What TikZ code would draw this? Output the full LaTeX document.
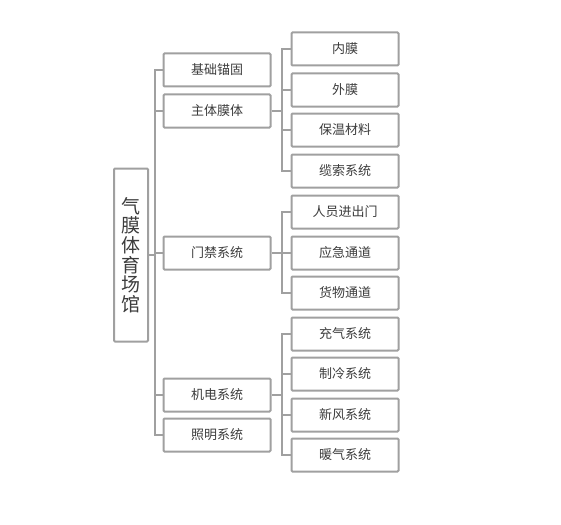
\documentclass[tikz,border=0pt]{standalone}
\usepackage{fontspec}
\newfontfamily\cjk{Noto Sans CJK SC}
\definecolor{linegray}{RGB}{160,160,160}
\definecolor{txt}{RGB}{60,60,60}
\begin{document}
\begin{tikzpicture}[x=1pt,y=-1pt,
  box/.style={draw=linegray, line width=2pt, fill=white, rounded corners=1pt,
    minimum width=107pt, minimum height=33pt, inner sep=0pt,
    font=\cjk\fontsize{13}{15}\selectfont, text=txt},
  rootbox/.style={draw=linegray, line width=2pt, fill=white, rounded corners=1pt,
    minimum width=34pt, minimum height=173pt, inner sep=0pt,
    font=\cjk\fontsize{19}{19.6}\selectfont, text=txt, align=center},
  conn/.style={draw=linegray, line width=2pt}]
\useasboundingbox (0,0) rectangle (561,524);
% root
\node[rootbox] (root) at (131,255) {气\\膜\\体\\育\\场\\馆};
% level 1
\node[box] (a) at (217,70) {基础锚固};
\node[box] (b) at (217,111) {主体膜体};
\node[box] (c) at (217,253) {门禁系统};
\node[box] (d) at (217,395) {机电系统};
\node[box] (e) at (217,435) {照明系统};
% level 2
\node[box] (b1) at (345,49) {内膜};
\node[box] (b2) at (345,90) {外膜};
\node[box] (b3) at (345,130) {保温材料};
\node[box] (b4) at (345,171) {缆索系统};
\node[box] (c1) at (345,212) {人员进出门};
\node[box] (c2) at (345,253) {应急通道};
\node[box] (c3) at (345,293) {货物通道};
\node[box] (d1) at (345,334) {充气系统};
\node[box] (d2) at (345,374) {制冷系统};
\node[box] (d3) at (345,415) {新风系统};
\node[box] (d4) at (345,455) {暖气系统};
% coordinates on trunks
\coordinate (rt) at (155,255);
\coordinate (bt) at (282,111);
\coordinate (ct) at (282,253);
\coordinate (dt) at (282,395);
\begin{scope}[on background layer/.style={}]
\draw[conn] (root.east) -- (rt);
\foreach \n in {a,b,c,d,e} \draw[conn] (rt) |- (\n.west);
\draw[conn] (b.east) -- (bt);
\foreach \n in {b1,b2,b3,b4} \draw[conn] (bt) |- (\n.west);
\draw[conn] (c.east) -- (ct);
\foreach \n in {c1,c2,c3} \draw[conn] (ct) |- (\n.west);
\draw[conn] (d.east) -- (dt);
\foreach \n in {d1,d2,d3,d4} \draw[conn] (dt) |- (\n.west);
\end{scope}
\end{tikzpicture}
\end{document}
